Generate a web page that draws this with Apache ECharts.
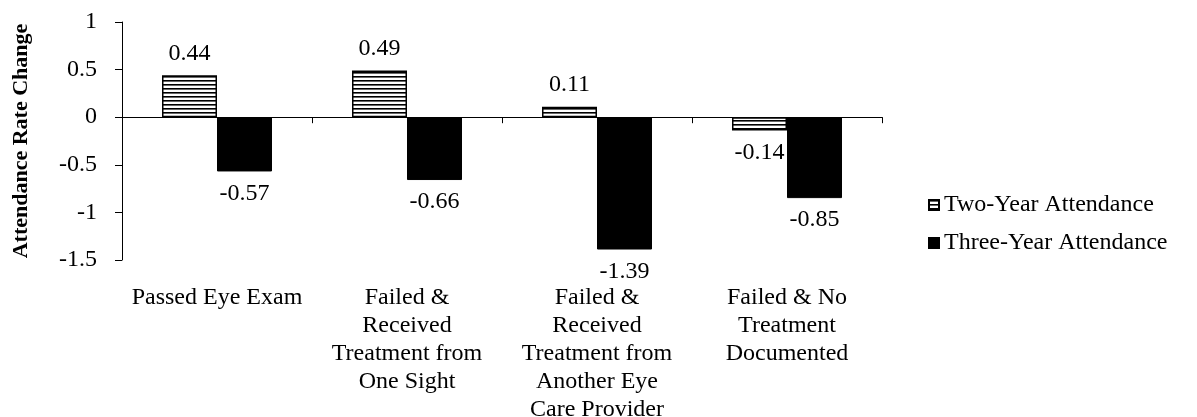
<!DOCTYPE html>
<html>
<head>
<meta charset="utf-8">
<script src="https://cdn.jsdelivr.net/npm/echarts@6/dist/echarts.min.js"></script>
<style>
  html, body { margin: 0; padding: 0; background: #fff; }
  #chart { width: 1197px; height: 417px; }
</style>
</head>
<body>
<div id="chart"></div>
<script>
var categories = ['Passed Eye Exam', 'Failed &\nReceived\nTreatment from\nOne Sight', 'Failed &\nReceived\nTreatment from\nAnother Eye\nCare Provider', 'Failed & No\nTreatment\nDocumented'];
var twoYear = [0.44, 0.49, 0.11, -0.14];
var threeYear = [-0.57, -0.66, -1.39, -0.85];
var seriesNames = ['Two-Year Attendance', 'Three-Year Attendance'];
var fontName = 'Liberation Serif';

// horizontal stripes for the two-year bars
function stripePattern() {
    var c = document.createElement('canvas');
    c.width = 4;
    c.height = 4;
    var ctx = c.getContext('2d');
    ctx.fillStyle = '#fff';
    ctx.fillRect(0, 0, 4, 4);
    ctx.fillStyle = '#000';
    ctx.fillRect(0, 0, 4, 1);
    ctx.fillStyle = '#666';
    ctx.fillRect(0, 1, 4, 1);
    return c;
}

function withLabels(values) {
    return values.map(function (v) {
        return { value: v, label: { position: v >= 0 ? 'top' : 'bottom' } };
    });
}

var myChart = echarts.init(document.getElementById('chart'));
var labelStyle = { show: true, fontSize: 24, fontFamily: fontName, color: '#000', distance: 10 };

var option = {
    backgroundColor: '#fff',
    animation: false,
    grid: { left: 122, right: 315, top: 22, bottom: 157, outerBoundsMode: 'none', containLabel: false },
    legend: {
        data: seriesNames,
        orient: 'vertical',
        left: 923,
        top: 188,
        icon: 'rect',
        itemWidth: 10,
        itemHeight: 10,
        itemGap: 14,
        textStyle: { fontSize: 24, lineHeight: 24, fontFamily: fontName, color: '#000' }
    },
    xAxis: [{
        type: 'category',
        data: categories,
        axisLine: { onZero: true, lineStyle: { color: '#000', width: 1 } },
        axisTick: { show: true, length: 6, lineStyle: { color: '#000' } },
        axisLabel: { show: false }
    }, {
        type: 'category',
        data: categories,
        position: 'bottom',
        axisLine: { show: false, onZero: false },
        axisTick: { show: false },
        axisLabel: {
            show: true,
            interval: 0,
            margin: 24,
            fontSize: 24,
            lineHeight: 28,
            fontFamily: fontName,
            color: '#000'
        }
    }],
    yAxis: {
        type: 'value',
        min: -1.5,
        max: 1,
        interval: 0.5,
        name: 'Attendance Rate Change',
        nameLocation: 'middle',
        nameGap: 90,
        nameTextStyle: { fontSize: 22, fontWeight: 'bold', fontFamily: fontName, color: '#000' },
        axisLine: { show: true, lineStyle: { color: '#000', width: 1 } },
        axisTick: { show: true, length: 7, lineStyle: { color: '#000' } },
        axisLabel: { margin: 25, fontSize: 24, fontFamily: fontName, color: '#000' },
        splitLine: { show: false }
    },
    series: [{
        name: seriesNames[0],
        type: 'bar',
        xAxisIndex: 0,
        barWidth: 55,
        barGap: '0%',
        data: withLabels(twoYear),
        itemStyle: {
            color: { image: stripePattern(), repeat: 'repeat' },
            borderColor: '#000',
            borderWidth: 1.5
        },
        label: labelStyle
    }, {
        name: seriesNames[1],
        type: 'bar',
        xAxisIndex: 0,
        barWidth: 55,
        barGap: '0%',
        data: withLabels(threeYear),
        itemStyle: { color: '#000', borderColor: '#000', borderWidth: 1 },
        label: labelStyle
    }]
};
myChart.setOption(option);
</script>
</body>
</html>
